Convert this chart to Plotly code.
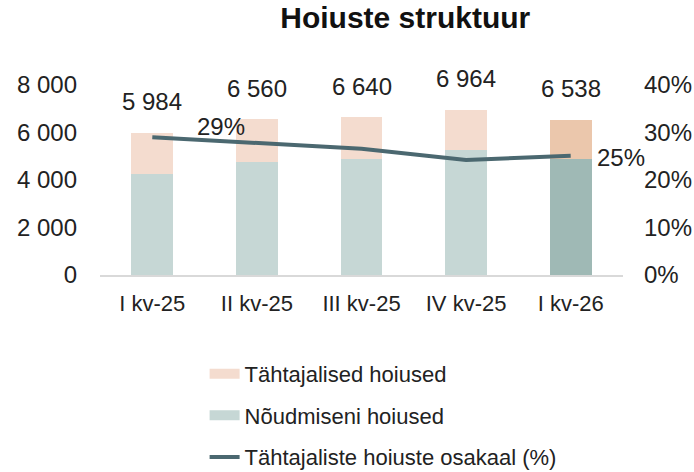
import plotly.graph_objects as go

categories = ["I kv-25", "II kv-25", "III kv-25", "IV kv-25", "I kv-26"]
noudmiseni = [4250, 4750, 4890, 5280, 4890]
totals = [5984, 6560, 6640, 6964, 6538]
tahtajalised = [t - n for t, n in zip(totals, noudmiseni)]
osakaal = [0.290, 0.277, 0.266, 0.242, 0.251]
left_ticks = [0, 2000, 4000, 6000, 8000]
right_ticks = [0, 0.1, 0.2, 0.3, 0.4]

c_noud = ["#c6d7d5"] * 4 + ["#9fb9b5"]
c_taht = ["#f4dccf"] * 4 + ["#ebc7ac"]
c_line = "#4b6870"
c_noud_leg = "#c6d7d5"
c_taht_leg = "#f4dccf"

FONT = "Liberation Sans, Arial, sans-serif"
fs = 24
fs_x = 22
fs_leg = 22

fig = go.Figure()
fig.add_trace(go.Bar(x=categories, y=noudmiseni, marker_color=c_noud, marker_line_width=0,
                     width=0.4, showlegend=False, name="Nõudmiseni hoiused"))
fig.add_trace(go.Bar(x=categories, y=tahtajalised, marker_color=c_taht, marker_line_width=0,
                     width=0.4, showlegend=False, name="Tähtajalised hoiused"))
fig.add_trace(go.Scatter(x=categories, y=osakaal, yaxis="y2", mode="lines",
                         line=dict(color=c_line, width=4), name="Tähtajaliste hoiuste osakaal (%)",
                         legendrank=3, legendgroup="c"))
# legend-only entries for bar series
fig.add_trace(go.Scatter(x=[None], y=[None], mode="lines", line=dict(color=c_taht_leg, width=12),
                         name="Tähtajalised hoiused", legendrank=1, legendgroup="a"))
fig.add_trace(go.Scatter(x=[None], y=[None], mode="lines", line=dict(color=c_noud_leg, width=12),
                         name="Nõudmiseni hoiused", legendrank=2, legendgroup="b"))

annotations = []
for c, t in zip(categories, totals):
    annotations.append(dict(x=c, y=t, xref="x", yref="y", text=f"{t:,}".replace(",", " "),
                            showarrow=False, yshift=31, font=dict(size=fs, color="#222", family=FONT)))
annotations.append(dict(x=categories[0], y=osakaal[0], xref="x", yref="y2",
                        text=f"{round(osakaal[0]*100)}%", showarrow=False, xshift=69, yshift=11,
                        font=dict(size=fs, color="#222", family=FONT)))
annotations.append(dict(x=categories[-1], y=osakaal[-1], xref="x", yref="y2",
                        text=f"{round(osakaal[-1]*100)}%", showarrow=False, xshift=50, yshift=-2,
                        font=dict(size=fs, color="#222", family=FONT)))

fig.update_layout(
    width=694, height=472,
    barmode="stack",
    paper_bgcolor="white", plot_bgcolor="white",
    margin=dict(l=100, r=71, t=85, b=197, autoexpand=False),
    font=dict(family=FONT, size=fs, color="#222"),
    title=dict(text="<b>Hoiuste struktuur</b>", x=0.584, xanchor="center", y=0.962, yanchor="middle",
               font=dict(size=30, color="#111", family=FONT)),
    xaxis=dict(range=[-0.5, 4.5], showgrid=False, showline=True, linecolor="#d9d9d9", linewidth=2,
               ticks="", ticklabelstandoff=8, tickfont=dict(size=fs_x), automargin=False),
    yaxis=dict(range=[0, 8000], tickvals=left_ticks,
               ticktext=[f"{v:,}".replace(",", " ") for v in left_ticks],
               showgrid=False, zeroline=False, showline=False, ticks="", ticklabelstandoff=22,
               tickfont=dict(size=fs), automargin=False),
    yaxis2=dict(range=[0, 0.4], tickvals=right_ticks, ticktext=[f"{round(v*100)}%" for v in right_ticks],
                overlaying="y", side="right", showgrid=False, zeroline=False, showline=False,
                ticks="", ticklabelstandoff=20, tickfont=dict(size=fs), automargin=False),
    legend=dict(orientation="v", x=0.20, xanchor="left", y=-0.41, yanchor="top",
                traceorder="grouped", tracegroupgap=10, font=dict(size=fs_leg, family=FONT),
                itemwidth=30, bgcolor="rgba(0,0,0,0)"),
    annotations=annotations,
)

fig.write_html("out.html", config={"displayModeBar": False},
               post_script="document.body.style.margin='0';document.body.style.overflow='hidden';")
